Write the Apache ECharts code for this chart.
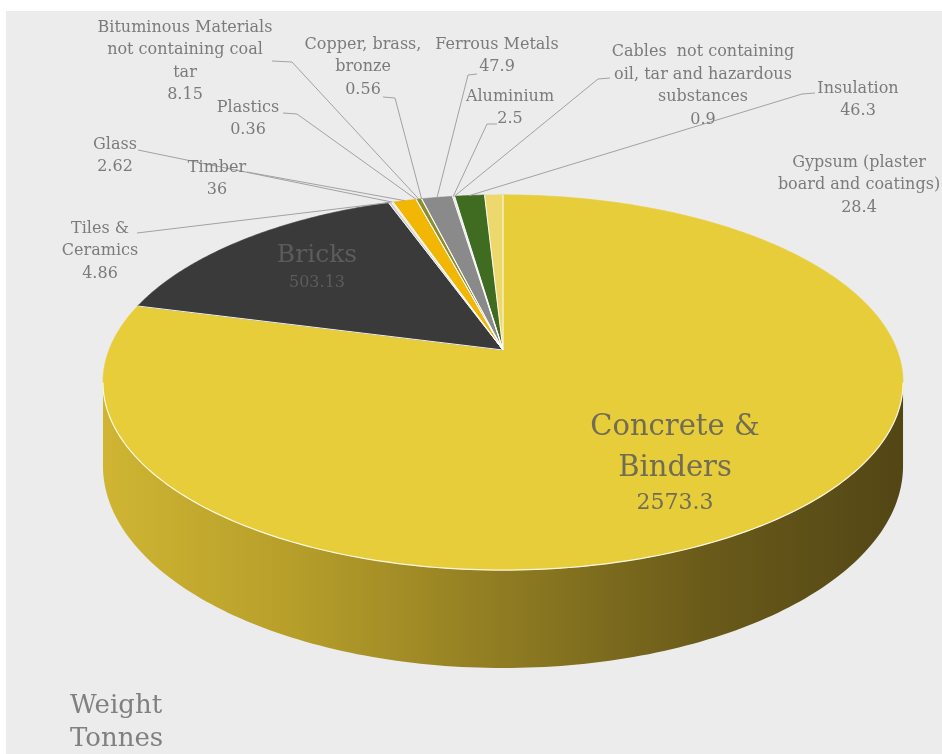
<!DOCTYPE html>
<html>
<head>
<meta charset="utf-8">
<script src="https://cdn.jsdelivr.net/npm/echarts@6/dist/echarts.min.js"></script>
<style>
html,body{margin:0;padding:0;background:#ffffff;}
#c{width:942px;height:754px;}
</style>
</head>
<body>
<div id="c"></div>
<script>
// ---------------- data ----------------
const categories = [
  'Concrete & Binders', 'Bricks', 'Tiles & Ceramics', 'Glass', 'Timber', 'Plastics',
  'Bituminous Materials not containing coal tar', 'Copper, brass, bronze', 'Ferrous Metals',
  'Aluminium', 'Cables  not containing oil, tar and hazardous substances', 'Insulation',
  'Gypsum (plaster board and coatings)'
];
const weights = [2573.3, 503.13, 4.86, 2.62, 36, 0.36, 8.15, 0.56, 47.9, 2.5, 0.9, 46.3, 28.4];
const valueLabels = ['2573.3', '503.13', '4.86', '2.62', '36', '0.36', '8.15', '0.56', '47.9', '2.5', '0.9', '46.3', '28.4'];
const labelLines = [
  ['Concrete &', 'Binders'],
  ['Bricks'],
  ['Tiles &', 'Ceramics'],
  ['Glass'],
  ['Timber'],
  ['Plastics'],
  ['Bituminous Materials', 'not containing coal', 'tar'],
  ['Copper, brass,', 'bronze'],
  ['Ferrous Metals'],
  ['Aluminium'],
  ['Cables  not containing', 'oil, tar and hazardous', 'substances'],
  ['Insulation'],
  ['Gypsum (plaster', 'board and coatings)']
];
const unitTitle = 'Weight\nTonnes';

// ---------------- styles / layout ----------------
const colors = ['#e7cd3a', '#3a3a3a', '#cfcfcf', '#dfe6ea', '#f2b705', '#c9c9c9', '#8c8f2c',
                '#b07a3a', '#8a8a8a', '#d5d5d5', '#e4e4e4', '#3f6c20', '#ecd86c'];
const FONT = '"DejaVu Serif", serif';
const TEXT = '#7b7b7b';
const LH = 22.5;
const labelPos = [
  {inside: true, x: 675, y: 447.5},
  {inside: true, x: 317, y: 255},
  {x: 100, y: 217.5, lead: [[137, 233]]},
  {x: 115, y: 133.5, lead: [[138, 150]]},
  {x: 217, y: 156.5, lead: [[247, 172]]},
  {x: 248, y: 96.5,  lead: [[283, 113], [297, 114]]},
  {x: 185, y: 16.5,  lead: [[272, 61], [292, 62]]},
  {x: 363, y: 33.5,  lead: [[383, 97], [395, 98]]},
  {x: 497, y: 33.5,  lead: [[477, 74], [468, 75]]},
  {x: 510, y: 85.5,  lead: [[497, 124], [487, 124]]},
  {x: 703, y: 41,    lead: [[610, 78], [598, 79]]},
  {x: 858, y: 77.5,  lead: [[815, 93], [802, 94]]},
  {x: 859, y: 151.5}
];
// perspective projection of the pie disc
const PIE = {cx: 503, cy: 350, A: 394, B: 182, k: 0.173, H: 81};
function proj(theta, r) {
  const t = theta * Math.PI / 180;
  const u = r * Math.sin(t), v = -r * Math.cos(t);
  const w = 1 - PIE.k * v;
  return {x: PIE.cx + PIE.A * u / w, y: PIE.cy + PIE.B * v / w, w: w};
}

const total = weights.reduce((a, b) => a + b, 0);
const starts = [];
(function () { let acc = 0; weights.forEach(v => { starts.push(acc / total * 360); acc += v; }); })();

function renderItem(params, api) {
  const i = params.dataIndex;
  const val = api.value(0);
  const a0 = starts[i];
  const a1 = a0 + val / total * 360;
  const children = [];

  // side wall (visible front part)
  const s = Math.max(a0, 100), e = Math.min(a1, 260);
  if (e > s) {
    const pts = [];
    const rim = [];
    const n = Math.max(2, Math.ceil(e - s));
    for (let j = 0; j <= n; j++) { const p = proj(s + (e - s) * j / n, 1); pts.push([p.x, p.y]); rim.push([p.x, p.y]); }
    for (let j = n; j >= 0; j--) { const p = proj(s + (e - s) * j / n, 1); pts.push([p.x, p.y + PIE.H / p.w]); }
    children.push({
      type: 'polygon', shape: {points: pts}, z2: 0,
      style: {fill: new echarts.graphic.LinearGradient(0, 0, 1, 0, [
        {offset: 0, color: '#cfb532'},
        {offset: 0.25, color: '#b59d2a'},
        {offset: 0.5, color: '#8f7c22'},
        {offset: 0.75, color: '#6a5b1a'},
        {offset: 1, color: '#524615'}
      ])}
    });
    children.push({type: 'polyline', shape: {points: rim}, z2: 3,
      style: {stroke: 'rgba(255,255,255,0.85)', lineWidth: 1.2, fill: null}});
  }

  // top face
  const top = [[PIE.cx, PIE.cy]];
  const m = Math.max(1, Math.ceil((a1 - a0) / 0.5));
  for (let j = 0; j <= m; j++) { const p = proj(a0 + (a1 - a0) * j / m, 1); top.push([p.x, p.y]); }
  children.push({type: 'polygon', shape: {points: top}, z2: 1,
    style: {fill: colors[i], stroke: colors[i], lineWidth: 0.6}});
  const pe = proj(a0, 1);
  children.push({type: 'line', shape: {x1: PIE.cx, y1: PIE.cy, x2: pe.x, y2: pe.y}, z2: 4,
    style: {stroke: 'rgba(255,255,255,0.9)', lineWidth: 1}});

  // labels
  const L = labelPos[i];
  if (L.inside) {
    if (i === 0) {
      children.push({type: 'text', x: L.x, y: L.y, z2: 10, style: {text: labelLines[i].join('\n'),
        fill: '#706c55', font: '29px ' + FONT, align: 'center', verticalAlign: 'middle', lineHeight: 41}});
      children.push({type: 'text', x: L.x, y: L.y + 56, z2: 10, style: {text: valueLabels[i],
        fill: '#706c55', font: '22px ' + FONT, align: 'center', verticalAlign: 'middle'}});
    } else {
      children.push({type: 'text', x: L.x, y: L.y, z2: 10, style: {text: labelLines[i].join('\n'),
        fill: '#5c5c5c', font: '25px ' + FONT, align: 'center', verticalAlign: 'middle'}});
      children.push({type: 'text', x: L.x, y: L.y + 28, z2: 10, style: {text: valueLabels[i],
        fill: '#5c5c5c', font: '16px ' + FONT, align: 'center', verticalAlign: 'middle'}});
    }
  } else {
    const lines = labelLines[i].concat([valueLabels[i]]);
    children.push({type: 'text', x: L.x, y: L.y, z2: 10, style: {text: lines.join('\n'),
      fill: TEXT, font: '16px ' + FONT, align: 'center', verticalAlign: 'top', lineHeight: LH}});
    if (L.lead) {
      const pm = proj((a0 + a1) / 2, 1);
      const pts = L.lead.concat([[pm.x, pm.y]]);
      children.push({type: 'polyline', shape: {points: pts}, z2: 9,
        style: {stroke: '#a2a2a2', lineWidth: 1, fill: null}});
    }
  }
  return {type: 'group', children: children};
}

const chart = echarts.init(document.getElementById('c'), null, {renderer: 'canvas'});
chart.setOption({
  backgroundColor: '#ffffff',
  animation: false,
  graphic: [{type: 'rect', z: -10, silent: true, shape: {x: 6, y: 11, width: 936, height: 743},
    style: {fill: '#ececec'}}],
  title: {text: unitTitle, left: 70, top: 690, padding: 0,
    textStyle: {fontFamily: FONT, fontSize: 26, fontWeight: 'normal', color: '#808080', lineHeight: 33}},
  series: [{
    type: 'custom',
    coordinateSystem: 'none',
    silent: true,
    renderItem: renderItem,
    data: weights.map((v, i) => ({name: categories[i], value: v}))
  }]
});
</script>
</body>
</html>
